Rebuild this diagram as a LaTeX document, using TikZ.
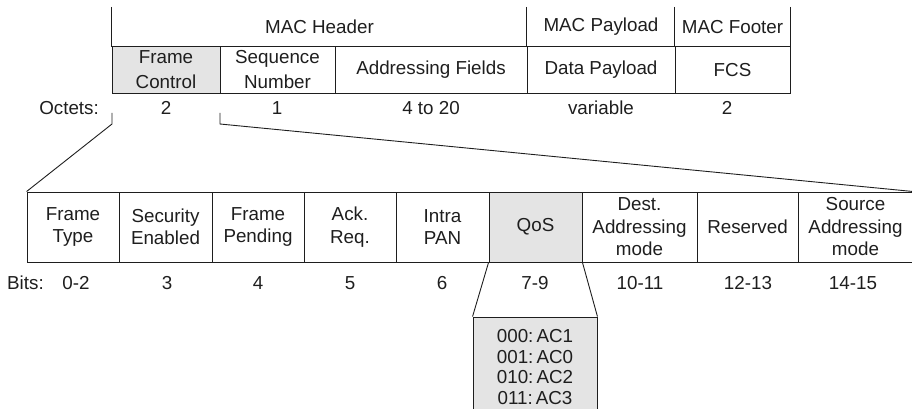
\documentclass[tikz,border=0pt]{standalone}
\usepackage{fontspec}
\setmainfont{Liberation Sans}
\definecolor{ink}{HTML}{1E1E1E}
\definecolor{shade}{HTML}{E4E4E4}
\begin{document}
\begin{tikzpicture}[x=1pt,y=-1pt,
  txt/.style={inner sep=0pt, text=ink, align=center, font=\fontsize{18.8}{22.5}\selectfont},
  cell/.style={txt, draw=ink, line width=0.9pt},
  topcell/.style={cell, minimum height=46.5pt, font=\fontsize{18.8}{25}\selectfont},
  bitcell/.style={cell, minimum height=70pt},
  head/.style={txt, minimum height=39.5pt},
  rule/.style={draw=ink, line width=0.9pt}]
\useasboundingbox (0,0) rectangle (912,409);

% MAC frame: field row
\node[topcell, fill=shade, minimum width=108pt] (fc)  at (166,69.75)   {Frame\\Control};
\node[topcell, minimum width=115pt]             (sn)  at (277.5,69.75) {Sequence\\Number};
\node[topcell, minimum width=192pt]             (af)  at (431,69.75)   {Addressing Fields};
\node[topcell, minimum width=148pt]             (dp)  at (601,69.75)   {Data Payload};
\node[topcell, minimum width=115pt]             (fcs) at (732.5,69.75) {FCS};

% MAC frame: section headings
\node[head, minimum width=415pt] (mh) at (319.5,26.75) {MAC Header};
\node[head, minimum width=148pt] (mp) at (601,26.75)   {MAC Payload};
\node[head, minimum width=115pt] (mf) at (732.5,26.75) {MAC Footer};
\draw[rule] (mh.north west) -- (mh.south west);
\draw[rule] (mp.north west) -- (mp.south west);
\draw[rule] (mf.north west) -- (mf.south west);
\draw[rule] (mf.north east) -- (mf.south east);

% octet counts
\node[txt, anchor=east] (oct) at (99,108) {Octets:};
\node[txt] (o1) at (166,108)   {2};
\node[txt] (o2) at (277,108)   {1};
\node[txt] (o3) at (431,108)   {4 to 20};
\node[txt] (o4) at (601,108)   {variable};
\node[txt] (o5) at (727,108)   {2};

% frame control sub-fields
\node[bitcell, minimum width=92pt]              (ft)  at (73,227)    {Frame\\Type};
\node[bitcell, minimum width=93pt]              (se)  at (165.5,227) {Security\\Enabled};
\node[bitcell, minimum width=92pt]              (fp)  at (258,227)   {Frame\\Pending};
\node[bitcell, minimum width=92pt]              (ar)  at (350,227)   {Ack.\\Req.};
\node[bitcell, minimum width=93pt]              (ip)  at (442.5,227) {Intra\\PAN};
\node[bitcell, fill=shade, minimum width=93pt]  (qos) at (535.5,227) {QoS};
\node[bitcell, minimum width=115pt]             (da)  at (639.5,227) {Dest.\\Addressing\\mode};
\node[bitcell, minimum width=101pt]             (rs)  at (747.5,227) {Reserved};
\node[bitcell, minimum width=115pt]             (sa)  at (855.5,227) {Source\\Addressing\\mode};

% bit positions
\node[txt, anchor=west] (bits) at (7,283) {Bits:};
\node[txt] (b1) at (76,283)  {0-2};
\node[txt] (b2) at (167,283) {3};
\node[txt] (b3) at (258,283) {4};
\node[txt] (b4) at (350,283) {5};
\node[txt] (b5) at (442,283) {6};
\node[txt] (b6) at (535,283) {7-9};
\node[txt] (b7) at (640,283) {10-11};
\node[txt] (b8) at (748,283) {12-13};
\node[txt] (b9) at (853,283) {14-15};

% QoS access categories
\node[cell, fill=shade, minimum width=124pt, minimum height=92pt] (ac) at (535,363) {};
\node[txt, font=\fontsize{18.8}{20.5}\selectfont] (acl) at (535,367)
  {000:\,AC1\\001:\,AC0\\010:\,AC2\\011:\,AC3};

% expansion lines
\coordinate (fcA) at (112,113);
\coordinate (fcB) at (112,124);
\coordinate (fcC) at (220,113);
\coordinate (fcD) at (220,124);
\draw[rule] (fcA) -- (fcB) -- (ft.north west);
\draw[rule] (fcC) -- (fcD) -- (sa.north east);
\draw[rule] (qos.south west) -- (ac.north west);
\draw[rule] (qos.south east) -- (ac.north east);
\end{tikzpicture}
\end{document}
